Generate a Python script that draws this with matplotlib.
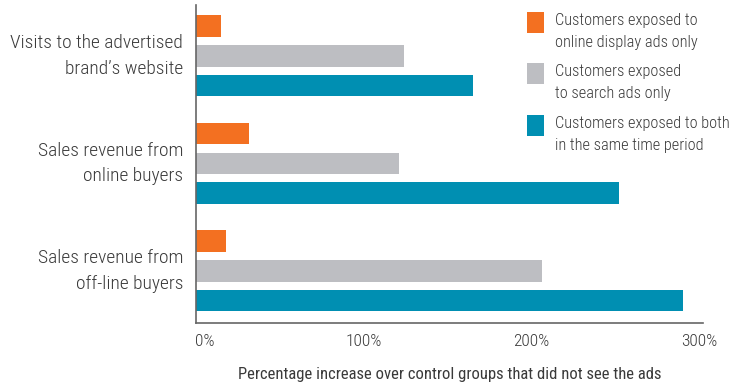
import matplotlib
matplotlib.use("Agg")
import matplotlib.pyplot as plt
from matplotlib import font_manager as fm
from matplotlib.patches import Rectangle
import numpy as np

# Data
categories = [
    "Visits to the advertised\nbrand\u2019s website",
    "Sales revenue from\nonline buyers",
    "Sales revenue from\noff-line buyers",
]
series_names = [
    "Customers exposed to\nonline display ads only",
    "Customers exposed\nto search ads only",
    "Customers exposed to both\nin the same time period",
]
display_only = [15, 32, 18]
search_only = [124, 121, 206]
both = [165, 252, 290]
tick_values = [0, 100, 200, 300]
tick_labels = ["0%", "100%", "200%", "300%"]
xlabel = "Percentage increase over control groups that did not see the ads"

colors = ["#F37021", "#BDBEC2", "#008FB2"]
text_color = "#3A3A3A"

# Prefer a condensed sans-serif face
available = {f.name for f in fm.fontManager.ttflist}
narrow = next((n for n in ["Roboto Condensed", "IBM Plex Sans Condensed",
                           "PT Sans Narrow", "Open Sans Condensed"] if n in available),
              "DejaVu Sans")
plt.rcParams["font.family"] = [narrow, "DejaVu Sans"]
plt.rcParams["font.weight"] = "light"

W, H = 737, 384
fig = plt.figure(figsize=(W / 100, H / 100), dpi=100)
left, right, top, bottom = 195.5, 703, 5, 323
ax = fig.add_axes([left / W, 1 - bottom / H, (right - left) / W, (bottom - top) / H])

y = np.arange(len(categories))
offset = 0.277
height = 0.2
for vals, off, c in zip([display_only, search_only, both], [-offset, 0, offset], colors):
    ax.barh(y + off, vals, height=height, color=c, edgecolor="none")

ax.set_xlim(0, 302)
ax.set_ylim(2.484, -0.474)

ax.set_yticks(y)
ax.set_yticklabels(categories, fontsize=14, color=text_color, linespacing=1.55,
                   va="center")
ax.tick_params(axis="y", length=0, pad=9)

ax.set_xticks(tick_values)
ax.set_xticklabels(tick_labels, fontsize=12.5, color=text_color)
ax.tick_params(axis="x", length=0, pad=8)
ax.get_xticklabels()[0].set_horizontalalignment("left")

ax.set_xlabel(xlabel, fontsize=12, color=text_color, labelpad=13)

for s in ["top", "right"]:
    ax.spines[s].set_visible(False)
for s in ["left", "bottom"]:
    ax.spines[s].set_color("#666666")
    ax.spines[s].set_linewidth(1.2)

# Legend drawn beside the bars
legend_tops = [12, 63, 115]
for top_px, c, name in zip(legend_tops, colors, series_names):
    fig.patches.append(Rectangle((527 / W, 1 - (top_px + 21) / H), 17 / W, 21 / H,
                                 transform=fig.transFigure, facecolor=c,
                                 edgecolor="none"))
    fig.text(555 / W, 1 - (top_px + 1) / H, name, fontsize=11.8, color=text_color,
             va="top", ha="left", linespacing=1.62)

fig.savefig("out.png", dpi=100, facecolor="white")
